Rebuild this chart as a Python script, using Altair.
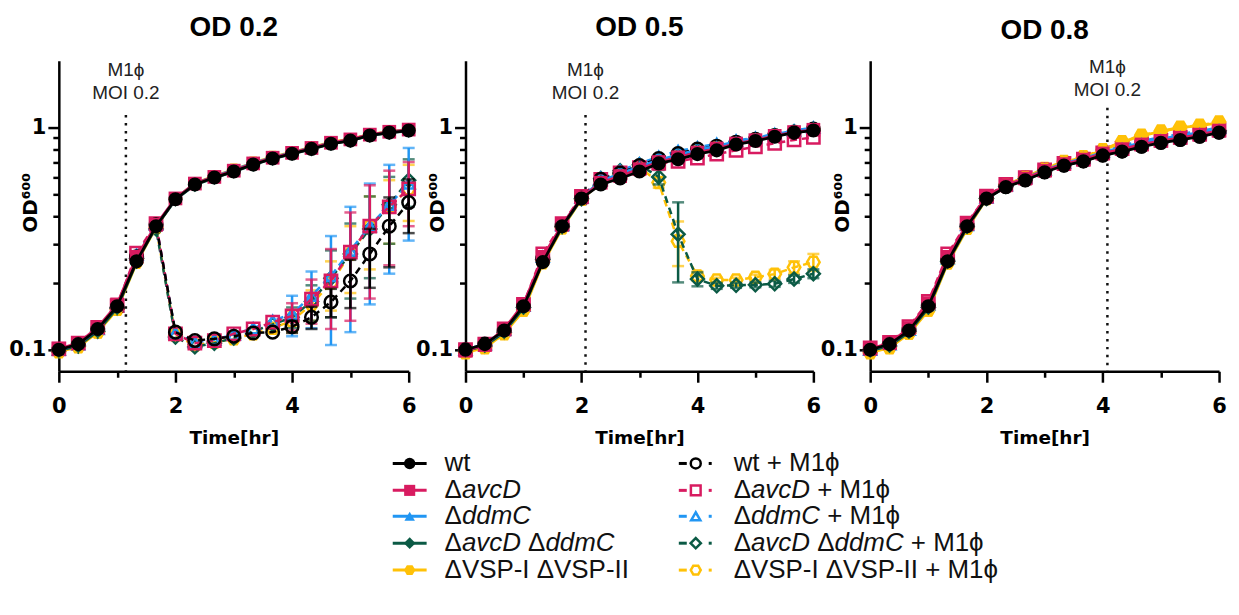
import altair as alt
import pandas as pd

# ---------------- data ----------------
T = [0, 0.333, 0.667, 1, 1.333, 1.667, 2, 2.333, 2.667, 3, 3.333, 3.667,
     4, 4.333, 4.667, 5, 5.333, 5.667, 6]

PANELS = ["OD 0.2", "OD 0.5", "OD 0.8"]
STRAINS = ["wt", "avcD", "ddmC", "avcDddmC", "VSP"]
INFECT_T = [1.15, 2.07, 4.08]
DOT_TOP = [1.14, 1.14, 1.23]
ANN_TEXT = ["M1ϕ", "MOI 0.2"]
ANN_Y = [[1.81, 1.43], [1.81, 1.43], [1.87, 1.47]]
X_TICKS = [0, 1, 2, 3, 4, 5, 6]
Y_TICKS = [0.1, 0.2, 0.3, 0.4, 0.5, 0.6, 0.7, 0.8, 0.9, 1]

# OD 0.2 panel, uninfected
OD02_wt = [0.100, 0.106, 0.124, 0.157, 0.250, 0.360, 0.476, 0.555, 0.596, 0.635, 0.682, 0.726, 0.763, 0.802, 0.846, 0.874, 0.922, 0.950, 0.970]
OD02_avcD = [0.101, 0.107, 0.126, 0.160, 0.262, 0.365, 0.480, 0.560, 0.600, 0.640, 0.690, 0.732, 0.770, 0.810, 0.855, 0.885, 0.930, 0.958, 0.980]
OD02_ddmC = [0.100, 0.106, 0.124, 0.158, 0.255, 0.362, 0.478, 0.560, 0.602, 0.645, 0.692, 0.735, 0.772, 0.812, 0.855, 0.884, 0.928, 0.956, 0.978]
OD02_avcDddmC = [0.099, 0.104, 0.121, 0.154, 0.248, 0.358, 0.474, 0.552, 0.594, 0.634, 0.680, 0.724, 0.762, 0.800, 0.845, 0.873, 0.920, 0.948, 0.968]
OD02_VSP = [0.098, 0.103, 0.120, 0.152, 0.246, 0.356, 0.478, 0.562, 0.605, 0.648, 0.695, 0.738, 0.776, 0.815, 0.860, 0.888, 0.932, 0.960, 0.982]
# OD 0.2 panel, + M1phi
OD02_wt_M1 = [0.100, 0.106, 0.124, 0.155, 0.262, 0.365, 0.120, 0.110, 0.112, 0.115, 0.119, 0.120, 0.127, 0.140, 0.164, 0.204, 0.270, 0.360, 0.460]
OD02_avcD_M1 = [0.101, 0.107, 0.126, 0.158, 0.272, 0.370, 0.118, 0.107, 0.110, 0.118, 0.124, 0.133, 0.142, 0.169, 0.204, 0.275, 0.360, 0.440, 0.530]
OD02_ddmC_M1 = [0.100, 0.106, 0.124, 0.157, 0.268, 0.366, 0.119, 0.108, 0.111, 0.117, 0.125, 0.135, 0.145, 0.175, 0.215, 0.280, 0.360, 0.450, 0.560]
OD02_avcDddmC_M1 = [0.099, 0.104, 0.121, 0.154, 0.258, 0.350, 0.114, 0.103, 0.107, 0.113, 0.121, 0.130, 0.140, 0.165, 0.210, 0.270, 0.350, 0.450, 0.580]
OD02_VSP_M1 = [0.098, 0.103, 0.120, 0.152, 0.255, 0.355, 0.116, 0.105, 0.108, 0.112, 0.118, 0.125, 0.135, 0.160, 0.200, 0.270, 0.360, 0.440, 0.530]
# OD 0.2 panel, SD of + M1phi
OD02_wt_M1_sd = [0, 0, 0, 0, 0, 0, 0, 0, 0, 0, 0, 0, 0.008, 0.016, 0.024, 0.050, 0.080, 0.125, 0.125]
OD02_avcD_M1_sd = [0, 0, 0, 0, 0, 0, 0, 0, 0, 0, 0, 0, 0.020, 0.038, 0.080, 0.140, 0.190, 0.200, 0.170]
OD02_ddmC_M1_sd = [0, 0, 0, 0, 0, 0, 0, 0, 0, 0, 0, 0, 0.030, 0.050, 0.110, 0.160, 0.200, 0.230, 0.250]
OD02_avcDddmC_M1_sd = [0, 0, 0, 0, 0, 0, 0, 0, 0, 0, 0, 0, 0.015, 0.030, 0.070, 0.100, 0.140, 0.150, 0.140]
OD02_VSP_M1_sd = [0, 0, 0, 0, 0, 0, 0, 0, 0, 0, 0, 0, 0.015, 0.025, 0.050, 0.090, 0.130, 0.140, 0.150]

# OD 0.5 panel, uninfected
OD05_wt = [0.100, 0.106, 0.122, 0.157, 0.248, 0.360, 0.480, 0.555, 0.590, 0.635, 0.690, 0.720, 0.760, 0.790, 0.840, 0.870, 0.910, 0.950, 0.970]
OD05_avcD = [0.099, 0.105, 0.124, 0.160, 0.262, 0.365, 0.485, 0.565, 0.605, 0.650, 0.700, 0.735, 0.772, 0.805, 0.848, 0.878, 0.918, 0.955, 0.978]
OD05_ddmC = [0.100, 0.106, 0.122, 0.158, 0.255, 0.362, 0.482, 0.575, 0.620, 0.668, 0.715, 0.755, 0.795, 0.825, 0.865, 0.895, 0.932, 0.968, 0.995]
OD05_avcDddmC = [0.099, 0.104, 0.120, 0.154, 0.250, 0.356, 0.478, 0.570, 0.612, 0.660, 0.705, 0.745, 0.785, 0.815, 0.855, 0.885, 0.925, 0.960, 0.985]
OD05_VSP = [0.097, 0.102, 0.118, 0.150, 0.245, 0.352, 0.476, 0.565, 0.608, 0.655, 0.700, 0.740, 0.780, 0.812, 0.852, 0.882, 0.922, 0.958, 0.985]
# OD 0.5 panel, + M1phi
OD05_wt_M1 = [0.100, 0.106, 0.122, 0.157, 0.258, 0.362, 0.482, 0.585, 0.625, 0.675, 0.725, 0.765, 0.800, 0.825, 0.860, 0.885, 0.920, 0.955, 0.985]
OD05_avcD_M1 = [0.100, 0.106, 0.124, 0.160, 0.270, 0.370, 0.490, 0.585, 0.625, 0.660, 0.690, 0.705, 0.730, 0.760, 0.790, 0.820, 0.850, 0.880, 0.905]
OD05_ddmC_M1 = [0.100, 0.106, 0.123, 0.158, 0.262, 0.364, 0.484, 0.595, 0.640, 0.690, 0.740, 0.785, 0.815, 0.845, 0.875, 0.900, 0.935, 0.970, 1.000]
OD05_avcDddmC_M1 = [0.099, 0.104, 0.120, 0.155, 0.255, 0.358, 0.478, 0.590, 0.640, 0.680, 0.600, 0.331, 0.208, 0.194, 0.195, 0.196, 0.198, 0.208, 0.220]
OD05_VSP_M1 = [0.097, 0.102, 0.118, 0.151, 0.250, 0.355, 0.476, 0.580, 0.625, 0.665, 0.566, 0.308, 0.215, 0.206, 0.206, 0.212, 0.219, 0.235, 0.248]
OD05_wt_M1_sd = [0] * 19
OD05_avcD_M1_sd = [0] * 19
OD05_ddmC_M1_sd = [0] * 19
OD05_avcDddmC_M1_sd = [0, 0, 0, 0, 0, 0, 0, 0, 0, 0, 0.045, 0.130, 0.015, 0.006, 0.005, 0.005, 0.006, 0.008, 0.010]
OD05_VSP_M1_sd = [0, 0, 0, 0, 0, 0, 0, 0, 0, 0, 0.030, 0.070, 0.010, 0.005, 0.005, 0.006, 0.010, 0.015, 0.022]

# OD 0.8 panel, uninfected
OD08_wt = [0.100, 0.106, 0.122, 0.157, 0.250, 0.360, 0.480, 0.540, 0.580, 0.630, 0.675, 0.705, 0.750, 0.780, 0.820, 0.855, 0.880, 0.910, 0.950]
OD08_avcD = [0.101, 0.107, 0.125, 0.162, 0.262, 0.368, 0.488, 0.550, 0.590, 0.640, 0.685, 0.718, 0.765, 0.800, 0.840, 0.872, 0.900, 0.930, 0.970]
OD08_ddmC = [0.100, 0.106, 0.123, 0.158, 0.255, 0.362, 0.482, 0.548, 0.592, 0.645, 0.690, 0.725, 0.775, 0.815, 0.855, 0.890, 0.920, 0.950, 0.990]
OD08_avcDddmC = [0.099, 0.104, 0.120, 0.154, 0.248, 0.356, 0.478, 0.542, 0.585, 0.635, 0.680, 0.712, 0.760, 0.795, 0.835, 0.868, 0.895, 0.925, 0.965]
OD08_VSP = [0.097, 0.102, 0.118, 0.150, 0.245, 0.350, 0.478, 0.552, 0.598, 0.650, 0.700, 0.735, 0.790, 0.860, 0.920, 0.960, 1.000, 1.020, 1.050]
# OD 0.8 panel, + M1phi
OD08_wt_M1 = [0.100, 0.106, 0.123, 0.158, 0.252, 0.362, 0.482, 0.542, 0.582, 0.632, 0.678, 0.708, 0.752, 0.785, 0.825, 0.858, 0.885, 0.915, 0.955]
OD08_avcD_M1 = [0.102, 0.108, 0.127, 0.165, 0.270, 0.372, 0.492, 0.555, 0.595, 0.645, 0.690, 0.722, 0.770, 0.805, 0.845, 0.876, 0.905, 0.935, 0.975]
OD08_ddmC_M1 = [0.100, 0.106, 0.123, 0.160, 0.258, 0.365, 0.485, 0.550, 0.595, 0.648, 0.695, 0.730, 0.780, 0.830, 0.870, 0.905, 0.935, 0.965, 1.000]
OD08_avcDddmC_M1 = [0.099, 0.104, 0.121, 0.155, 0.250, 0.358, 0.480, 0.545, 0.588, 0.638, 0.683, 0.715, 0.762, 0.798, 0.838, 0.870, 0.898, 0.928, 0.968]
OD08_VSP_M1 = [0.097, 0.102, 0.119, 0.151, 0.246, 0.352, 0.480, 0.555, 0.600, 0.655, 0.705, 0.740, 0.795, 0.865, 0.925, 0.965, 1.005, 1.025, 1.060]
OD08_wt_M1_sd = [0] * 19
OD08_avcD_M1_sd = [0] * 19
OD08_ddmC_M1_sd = [0] * 19
OD08_avcDddmC_M1_sd = [0] * 19
OD08_VSP_M1_sd = [0] * 19

UNINF = [
    dict(wt=OD02_wt, avcD=OD02_avcD, ddmC=OD02_ddmC, avcDddmC=OD02_avcDddmC, VSP=OD02_VSP),
    dict(wt=OD05_wt, avcD=OD05_avcD, ddmC=OD05_ddmC, avcDddmC=OD05_avcDddmC, VSP=OD05_VSP),
    dict(wt=OD08_wt, avcD=OD08_avcD, ddmC=OD08_ddmC, avcDddmC=OD08_avcDddmC, VSP=OD08_VSP),
]
INF = [
    dict(wt=OD02_wt_M1, avcD=OD02_avcD_M1, ddmC=OD02_ddmC_M1, avcDddmC=OD02_avcDddmC_M1, VSP=OD02_VSP_M1),
    dict(wt=OD05_wt_M1, avcD=OD05_avcD_M1, ddmC=OD05_ddmC_M1, avcDddmC=OD05_avcDddmC_M1, VSP=OD05_VSP_M1),
    dict(wt=OD08_wt_M1, avcD=OD08_avcD_M1, ddmC=OD08_ddmC_M1, avcDddmC=OD08_avcDddmC_M1, VSP=OD08_VSP_M1),
]
INF_SD = [
    dict(wt=OD02_wt_M1_sd, avcD=OD02_avcD_M1_sd, ddmC=OD02_ddmC_M1_sd, avcDddmC=OD02_avcDddmC_M1_sd, VSP=OD02_VSP_M1_sd),
    dict(wt=OD05_wt_M1_sd, avcD=OD05_avcD_M1_sd, ddmC=OD05_ddmC_M1_sd, avcDddmC=OD05_avcDddmC_M1_sd, VSP=OD05_VSP_M1_sd),
    dict(wt=OD08_wt_M1_sd, avcD=OD08_avcD_M1_sd, ddmC=OD08_ddmC_M1_sd, avcDddmC=OD08_avcDddmC_M1_sd, VSP=OD08_VSP_M1_sd),
]

LEG_LABELS = [
    [("wt", False)],
    [("Δ", False), ("avcD", True)],
    [("Δ", False), ("ddmC", True)],
    [("Δ", False), ("avcD", True), (" Δ", False), ("ddmC", True)],
    [("ΔVSP-I ΔVSP-II", False)],
    [("wt + M1ϕ", False)],
    [("Δ", False), ("avcD", True), (" + M1ϕ", False)],
    [("Δ", False), ("ddmC", True), (" +  M1ϕ", False)],
    [("Δ", False), ("avcD", True), (" Δ", False), ("ddmC", True), (" + M1ϕ", False)],
    [("ΔVSP-I ΔVSP-II +  M1ϕ", False)],
]

# ---------------- styles ----------------
COLORS = {"wt": "#000000", "avcD": "#D81B60", "ddmC": "#2196F3",
          "avcDddmC": "#0B5A45", "VSP": "#FFC107"}
HEX = "M-1,0L-0.5,-0.866L0.5,-0.866L1,0L0.5,0.866L-0.5,0.866Z"
SHAPES = {"wt": "circle", "avcD": "square", "ddmC": "triangle-up",
          "avcDddmC": "diamond", "VSP": HEX}
SIZES = {"wt": 200, "avcD": 190, "ddmC": 170, "avcDddmC": 210, "VSP": 200}
DRAW_ORDER = ["VSP", "avcDddmC", "ddmC", "avcD", "wt"]
TITLE_OFFSET = [-3, -3, -9]
PANEL_W = [351, 349, 350]

H = 311.5
SANS = "Liberation Sans"
WIDE = "DejaVu Sans"

X_MAJOR_TEST = "datum.value % 2 == 0"
Y_MAJOR_TEST = "datum.value == 1 || datum.value == 0.1"


def xenc(field="t"):
    return alt.X(f"{field}:Q",
                 scale=alt.Scale(domain=[0, 6], nice=False, zero=False),
                 axis=alt.Axis(values=X_TICKS, format="d", title="Time[hr]",
                               labelExpr=f"{X_MAJOR_TEST} ? datum.label : ''",
                               tickSize={"condition": {"test": X_MAJOR_TEST, "value": 11}, "value": 6}))


def yenc(field="v"):
    return alt.Y(f"{field}:Q",
                 scale=alt.Scale(type="log", domain=[0.08, 2], nice=False),
                 axis=alt.Axis(values=Y_TICKS, format="~g", title="OD⁶⁰⁰", labelOverlap=False,
                               labelExpr=f"{Y_MAJOR_TEST} ? datum.label : ''",
                               tickSize={"condition": {"test": Y_MAJOR_TEST, "value": 11}, "value": 6}))


def panel(i):
    layers = []
    layers.append(alt.Chart(pd.DataFrame({"t": [INFECT_T[i]], "v": [DOT_TOP[i]], "v2": [0.08]}))
                  .mark_rule(color="#111111", strokeWidth=2.5, strokeDash=[2.5, 5.5])
                  .encode(x=xenc(), y=yenc(), y2="v2:Q"))
    layers.append(alt.Chart(pd.DataFrame({"t": [INFECT_T[i]] * 2, "v": ANN_Y[i], "label": ANN_TEXT}))
                  .mark_text(font=SANS, fontSize=19, color="#222222", baseline="middle")
                  .encode(x=xenc(), y=yenc(), text="label:N"))
    for infected in (True, False):
        for s in DRAW_ORDER:
            vals = INF[i][s] if infected else UNINF[i][s]
            sd = INF_SD[i][s] if infected else [0] * len(T)
            d = pd.DataFrame({"t": T, "v": vals, "e": sd})
            d["lo"] = d["v"] - d["e"]
            d["hi"] = d["v"] + d["e"]
            c = COLORS[s]
            if infected:
                line = alt.Chart(d).mark_line(color=c, strokeWidth=2.5, strokeDash=[7, 5])
            else:
                line = alt.Chart(d).mark_line(color=c, strokeWidth=2.8)
            layers.append(line.encode(x=xenc(), y=yenc()))
            de = d[d["e"] > 0]
            if len(de):
                layers.append(alt.Chart(de).mark_errorbar(
                    ticks=True, size=12, thickness=2.5, color=c)
                    .encode(x=xenc(), y=yenc("lo"), y2="hi:Q"))
            if infected:
                pt = alt.Chart(d).mark_point(shape=SHAPES[s], size=SIZES[s] * 0.8, filled=False,
                                             color=c, strokeWidth=2.5, opacity=1)
            else:
                pt = alt.Chart(d).mark_point(shape=SHAPES[s], size=SIZES[s], filled=True,
                                             color=c, opacity=1)
            layers.append(pt.encode(x=xenc(), y=yenc()))
    return alt.layer(*layers).properties(
        width=PANEL_W[i], height=H,
        title=alt.TitleParams(PANELS[i], font=SANS, fontSize=28, fontWeight="bold",
                              color="black", frame="group", anchor="middle",
                              baseline="alphabetic", offset=TITLE_OFFSET[i]))


# ---------------- legend (built from marks, mixed italic text) ----------------
CHAR_W = {" ": 278, "+": 584, "-": 333, ".": 278, "0": 556, "1": 556, "2": 556,
          "A": 667, "C": 722, "D": 722, "I": 278, "M": 833, "P": 667, "S": 667,
          "V": 667, "a": 556, "c": 500, "d": 556, "m": 833, "t": 278, "v": 500,
          "w": 722, "Δ": 668, "ϕ": 620}
LFS = 26
LEG_X0, LEG_W = 58, 1000
LEG_Y0, LEG_H = 446, 140
COL_SYM_X = [393, 680]
COL_TXT_X = [445, 735]
ROW_Y = [463, 490, 516, 543, 570]


def tw(s):
    return sum(CHAR_W.get(ch, 556) for ch in s) / 1000 * LFS


def lx(f):
    return alt.X(f"{f}:Q", scale=alt.Scale(domain=[LEG_X0, LEG_X0 + LEG_W], nice=False, zero=False), axis=None)


def ly(f):
    return alt.Y(f"{f}:Q", scale=alt.Scale(domain=[LEG_Y0, LEG_Y0 + LEG_H], nice=False, zero=False,
                                          reverse=True), axis=None)


leg_layers = []
seg_rows = []
for k, segs in enumerate(LEG_LABELS):
    col, row = divmod(k, 5)
    s = STRAINS[row]
    c = COLORS[s]
    y = ROW_Y[row]
    x0 = COL_SYM_X[col]
    if col == 0:
        leg_layers.append(alt.Chart(pd.DataFrame({"x": [x0], "x2": [x0 + 34], "y": [y]}))
                          .mark_rule(color=c, strokeWidth=3).encode(x=lx("x"), x2="x2:Q", y=ly("y")))
        leg_layers.append(alt.Chart(pd.DataFrame({"x": [x0 + 17], "y": [y]}))
                          .mark_point(shape=SHAPES[s], size=SIZES[s] * 0.65, filled=True, color=c, opacity=1)
                          .encode(x=lx("x"), y=ly("y")))
    else:
        leg_layers.append(alt.Chart(pd.DataFrame({"x": [x0, x0 + 30], "x2": [x0 + 8, x0 + 33], "y": [y, y]}))
                          .mark_rule(color=c, strokeWidth=3).encode(x=lx("x"), x2="x2:Q", y=ly("y")))
        leg_layers.append(alt.Chart(pd.DataFrame({"x": [x0 + 17], "y": [y]}))
                          .mark_point(shape=SHAPES[s], size=SIZES[s] * 0.5, filled=False, color=c,
                                      strokeWidth=2.5, opacity=1)
                          .encode(x=lx("x"), y=ly("y")))
    cum = COL_TXT_X[col]
    for text, ital in segs:
        stripped = text.lstrip()
        lead = text[: len(text) - len(stripped)]
        seg_rows.append({"x": cum + tw(lead), "y": y, "text": stripped, "ital": ital})
        cum += tw(text)

seg_df = pd.DataFrame(seg_rows)
for ital in (False, True):
    leg_layers.append(alt.Chart(seg_df[seg_df["ital"] == ital])
                      .mark_text(font=SANS, fontSize=LFS, color="#111111", align="left",
                                 baseline="middle", fontStyle="italic" if ital else "normal")
                      .encode(x=lx("x"), y=ly("y"), text="text:N"))

legend = alt.layer(*leg_layers).properties(width=LEG_W, height=LEG_H)

top = alt.hconcat(panel(0), panel(1), panel(2), spacing=57, bounds="flush")

chart = alt.vconcat(top, legend, spacing=0).properties(
    padding={"left": 0, "top": 5, "right": 0, "bottom": 0}
).configure_view(stroke=None).configure_axis(
    domainColor="black", domainWidth=2.5, tickColor="black", tickWidth=2.5,
    grid=False, labelFont=WIDE, labelFontWeight="bold", labelFontSize=21, labelColor="black",
    titleFont=WIDE, titleFontWeight="bold", titleFontSize=18.5, titleColor="black"
).configure_axisX(labelPadding=13, titlePadding=12, labelFlush=False).configure_axisY(
    labelPadding=2, titleX=-28, titleY=142, titleAngle=270, titleBaseline="middle", titleAlign="center",
    titleFontSize=20
)

chart.save("out.html", embed_options={"renderer": "svg", "actions": False})
